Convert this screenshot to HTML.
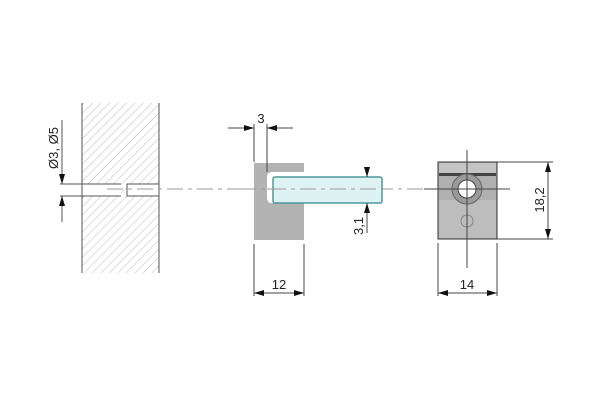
<!DOCTYPE html>
<html><head><style>body{margin:0;background:#fff}svg{display:block}text{font-family:"Liberation Sans",sans-serif;font-size:13px;fill:#222}</style></head><body>
<svg width="600" height="400" viewBox="0 0 600 400">
<defs>
<pattern id="h" width="6" height="6" patternUnits="userSpaceOnUse" patternTransform="rotate(45)"><line x1="0" y1="0" x2="0" y2="6" stroke="#aaa" stroke-width="0.8"/></pattern>
<marker id="a" markerWidth="10" markerHeight="6" refX="10" refY="3" orient="auto" markerUnits="userSpaceOnUse"><path d="M0,0 L10,3 L0,6z" fill="#111"/></marker>
</defs>
<g stroke="#555" stroke-width="1" fill="none">
<rect x="82" y="103" width="77" height="170" fill="url(#h)" stroke="none"/>
<line x1="82" y1="103" x2="82" y2="273"/><line x1="159" y1="103" x2="159" y2="273"/>
<rect x="83" y="184" width="38" height="12" fill="#fff" stroke="none"/>
<rect x="127" y="184" width="32" height="12" fill="#fff"/>
<line x1="60" y1="184" x2="121" y2="184"/><line x1="60" y1="196" x2="121" y2="196"/>
<line x1="62" y1="170" x2="62" y2="184" marker-end="url(#a)"/>
<line x1="62" y1="222" x2="62" y2="196" marker-end="url(#a)"/>
<line x1="62" y1="120" x2="62" y2="170"/>
<line x1="107" y1="189" x2="440" y2="189" stroke="#999" stroke-dasharray="16,5,4,5"/>
</g>
<!-- middle body -->
<path d="M254,163 H304 V172 H272 Q267,172 267,177 V198 Q267,203 272,203 H304 V240 H254 Z" fill="#b3b3b3"/>
<rect x="273" y="177" width="109" height="26" rx="2" fill="#dff2f3" stroke="#4e9a9a" stroke-width="1.5"/>
<line x1="240" y1="189" x2="382" y2="189" stroke="#999" stroke-dasharray="16,5,4,5"/>
<g stroke="#444" stroke-width="1" fill="none">
<line x1="254" y1="124" x2="254" y2="162"/><line x1="267" y1="124" x2="267" y2="172"/>
<line x1="228" y1="128" x2="254" y2="128" marker-end="url(#a)"/>
<line x1="293" y1="128" x2="267" y2="128" marker-end="url(#a)"/>
<line x1="254" y1="244" x2="254" y2="296"/><line x1="304" y1="244" x2="304" y2="296"/>
<line x1="279" y1="293" x2="254" y2="293" marker-end="url(#a)"/>
<line x1="279" y1="293" x2="304" y2="293" marker-end="url(#a)"/>
<line x1="367" y1="168" x2="367" y2="177" marker-end="url(#a)"/>
<line x1="367" y1="233" x2="367" y2="203" marker-end="url(#a)"/>
</g>
<!-- right block -->
<rect x="438" y="162" width="59" height="77" fill="#b0b0b0" stroke="#333"/>
<rect x="439" y="163" width="57" height="10" fill="#c4c4c4"/>
<rect x="439" y="173" width="57" height="3" fill="#444"/>
<rect x="439" y="200" width="57" height="38" fill="#bdbdbd"/>
<circle cx="467" cy="189" r="15" fill="#9a9a9a" stroke="#666"/>
<circle cx="467" cy="189" r="9" fill="#fff" stroke="#444"/>
<circle cx="467" cy="221" r="6" fill="none" stroke="#888"/>
<g stroke="#444" stroke-width="1" fill="none">
<line x1="467" y1="150" x2="467" y2="268"/><line x1="424" y1="189" x2="510" y2="189"/>
<line x1="497" y1="162" x2="553" y2="162"/><line x1="497" y1="239" x2="553" y2="239"/>
<line x1="548" y1="200" x2="548" y2="162" marker-end="url(#a)"/>
<line x1="548" y1="200" x2="548" y2="239" marker-end="url(#a)"/>
<line x1="438" y1="243" x2="438" y2="296"/><line x1="497" y1="243" x2="497" y2="296"/>
<line x1="467" y1="293" x2="438" y2="293" marker-end="url(#a)"/>
<line x1="467" y1="293" x2="497" y2="293" marker-end="url(#a)"/>
</g>
<text x="261" y="123" text-anchor="middle">3</text>
<text x="279" y="289" text-anchor="middle">12</text>
<text x="467" y="289" text-anchor="middle">14</text>
<text transform="translate(58,148) rotate(-90)" text-anchor="middle">Ø3, Ø5</text>
<text transform="translate(363,226) rotate(-90)" text-anchor="middle">3,1</text>
<text transform="translate(544,200) rotate(-90)" text-anchor="middle">18,2</text>
</svg>
</body></html>
